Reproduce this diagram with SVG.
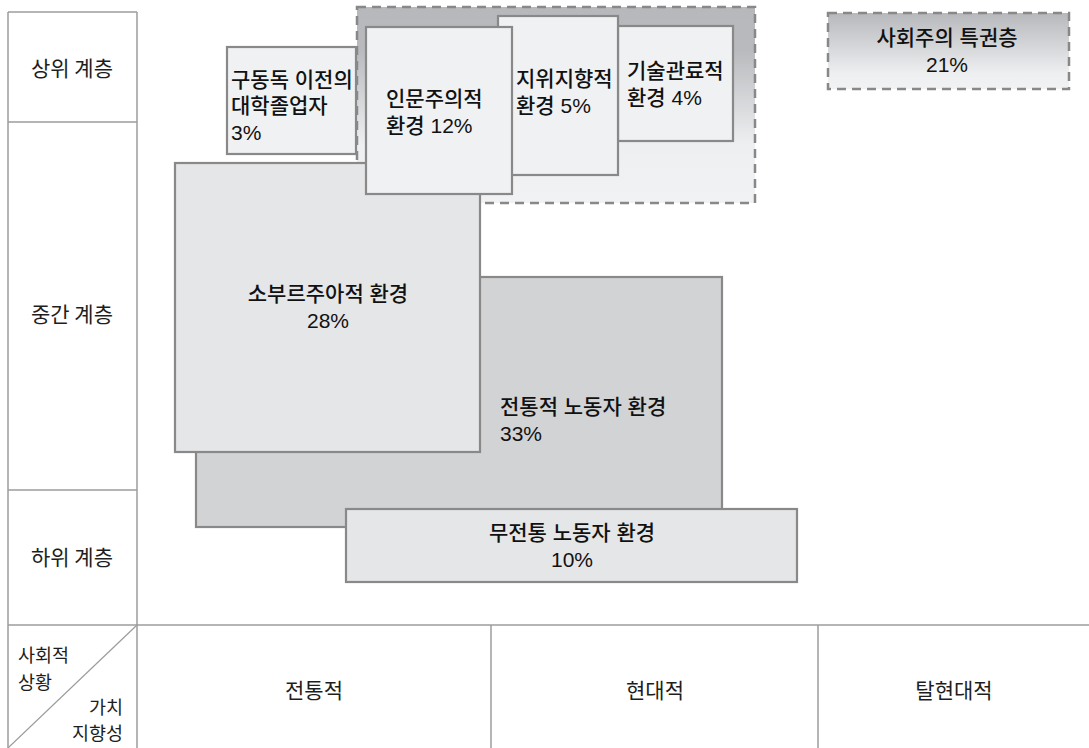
<svg xmlns="http://www.w3.org/2000/svg" width="1089" height="748" viewBox="0 0 1089 748">
<defs>
<linearGradient id="gGroup" x1="0" y1="0" x2="0" y2="1">
<stop offset="0" stop-color="#b7b8bb"/>
<stop offset="0.22" stop-color="#b9babd"/>
<stop offset="0.7" stop-color="#eeeff1"/>
<stop offset="1" stop-color="#f1f2f4"/>
</linearGradient>
<linearGradient id="gElite" x1="0" y1="0" x2="0" y2="1">
<stop offset="0" stop-color="#b7b8bb"/>
<stop offset="0.8" stop-color="#eeeff1"/>
<stop offset="1" stop-color="#f1f2f4"/>
</linearGradient>
<style>
.grid{stroke:#9c9c9c;stroke-width:1.5;fill:none}
.lab{font-family:"Noto Sans CJK KR","Noto Sans",sans-serif;font-size:21px;fill:#1e1e1e}
.sm{font-size:18.5px}
.box{stroke:#898989;stroke-width:2.2}
.light{fill:#f0f1f3}
.mid{fill:#e5e6e8}
.dark{fill:#d2d3d5}
.dash{stroke:#888;stroke-width:2.5;stroke-dasharray:9 6}
.t{font-family:"Liberation Sans","Noto Sans CJK KR",sans-serif;font-size:21px;fill:#111;font-weight:500}
.c{text-anchor:middle}
</style>
</defs>
<g id="table">
<line class="grid" x1="8" y1="12" x2="137" y2="12"/>
<line class="grid" x1="8" y1="12" x2="8" y2="748"/>
<line class="grid" x1="137" y1="12" x2="137" y2="748"/>
<line class="grid" x1="8" y1="122" x2="137" y2="122"/>
<line class="grid" x1="8" y1="490" x2="137" y2="490"/>
<line class="grid" x1="8" y1="625" x2="1089" y2="625"/>
<line class="grid" x1="491" y1="625" x2="491" y2="748"/>
<line class="grid" x1="818" y1="625" x2="818" y2="748"/>
<line class="grid" x1="137" y1="625" x2="8" y2="748" style="stroke-width:1.2"/>
<text class="lab c" x="72" y="76">상위 계층</text>
<text class="lab c" x="72" y="322">중간 계층</text>
<text class="lab c" x="72" y="565">하위 계층</text>
<text class="lab sm" x="18" y="662">사회적</text>
<text class="lab sm" x="18" y="689">상황</text>
<text class="lab sm" x="123" y="714" text-anchor="end">가치</text>
<text class="lab sm" x="123" y="740" text-anchor="end">지향성</text>
<text class="lab c" x="314" y="698">전통적</text>
<text class="lab c" x="655" y="698">현대적</text>
<text class="lab c" x="954" y="698">탈현대적</text>
</g>
<g id="upper-group">
<rect x="357" y="7" width="398" height="196" fill="url(#gGroup)" class="dash"/>
</g>
<g id="traditional-workers">
<rect class="box dark" x="196" y="277" width="526" height="250"/>
<text class="t" x="500" y="414">전통적 노동자 환경</text>
<text class="t" x="500" y="441">33%</text>
</g>
<g id="petty-bourgeois">
<rect class="box mid" x="175" y="163" width="305" height="289"/>
<text class="t c" x="328" y="301">소부르주아적 환경</text>
<text class="t c" x="328" y="328">28%</text>
</g>
<g id="pre-gdr-graduates">
<rect class="box light" x="227" y="47" width="129" height="107"/>
<text class="t" x="231" y="87">구동독 이전의</text>
<text class="t" x="231" y="113">대학졸업자</text>
<text class="t" x="231" y="140">3%</text>
</g>
<g id="technocratic">
<rect class="box light" x="618" y="26" width="115" height="115"/>
<text class="t" x="627" y="78">기술관료적</text>
<text class="t" x="627" y="105">환경 4%</text>
</g>
<g id="status-oriented">
<rect class="box light" x="498" y="16" width="120" height="159"/>
<text class="t" x="516" y="86">지위지향적</text>
<text class="t" x="516" y="113">환경 5%</text>
</g>
<g id="humanist">
<rect class="box light" x="366" y="27" width="146" height="167"/>
<text class="t" x="386" y="106">인문주의적</text>
<text class="t" x="386" y="133">환경 12%</text>
</g>
<g id="non-traditional-workers">
<rect class="box mid" x="346" y="509" width="451" height="73"/>
<text class="t c" x="572" y="540">무전통 노동자 환경</text>
<text class="t c" x="572" y="567">10%</text>
</g>
<g id="socialist-elite">
<rect x="828" y="13" width="241" height="76" fill="url(#gElite)" class="dash"/>
<text class="t c" x="947" y="45">사회주의 특권층</text>
<text class="t c" x="947" y="72">21%</text>
</g>
<g id="connectors"/>
</svg>
